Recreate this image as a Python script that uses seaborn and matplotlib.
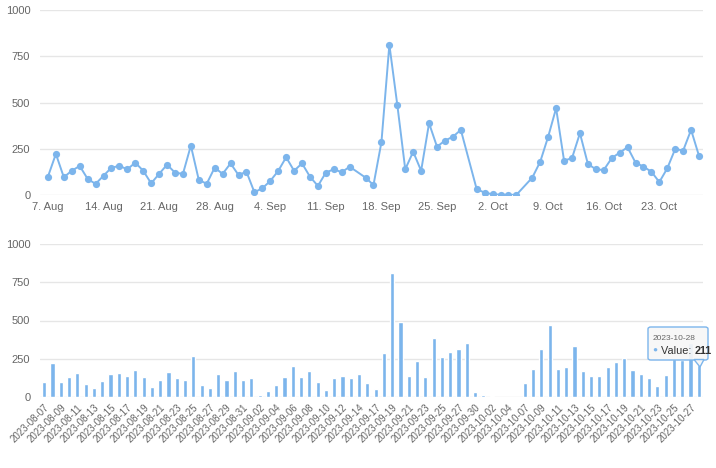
import matplotlib
matplotlib.use("Agg")
import matplotlib.pyplot as plt
import matplotlib.dates as mdates
from matplotlib.patches import FancyBboxPatch, Polygon
import seaborn as sns
import pandas as pd
import numpy as np

# ---- data ----
dates = (
    pd.date_range("2023-08-07", "2023-09-14").strftime("%Y-%m-%d").tolist()
    + ["2023-09-16", "2023-09-17"]
    + pd.date_range("2023-09-18", "2023-09-28").strftime("%Y-%m-%d").tolist()
    + ["2023-09-30"]
    + pd.date_range("2023-10-01", "2023-10-05").strftime("%Y-%m-%d").tolist()
    + pd.date_range("2023-10-07", "2023-10-28").strftime("%Y-%m-%d").tolist()
)
values = [
    # Aug 7 - Aug 31
    99, 222, 96, 131, 157, 87, 60, 104, 148, 157, 139, 175, 131, 63, 114, 164,
    121, 114, 267, 81, 61, 148, 114, 171, 108,
    # Sep 1 - Sep 14
    126, 15, 36, 76, 130, 204, 131, 171, 99, 49, 121, 139, 123, 153,
    # Sep 16, 17
    94, 54,
    # Sep 18 - Sep 28
    285, 812, 487, 139, 234, 131, 388, 261, 294, 315, 352,
    # Sep 30
    31,
    # Oct 1 - Oct 5
    13, 4, 2, 1, 1,
    # Oct 7 - Oct 28
    94, 180, 315, 469, 186, 199, 334, 168, 139, 135, 199, 229, 258, 175, 153,
    126, 70, 144, 249, 240, 352, 211,
]
tooltip_date = "2023-10-28"
tooltip_value = 211

color = "#7cb5ec"
grid_c = "#e6e6e6"
txt_c = "#666666"

sns.set_theme(style="white")
plt.rcParams["font.family"] = ["Liberation Sans", "DejaVu Sans"]

df = pd.DataFrame({"date": pd.to_datetime(dates), "label": dates, "value": values})

fig = plt.figure(figsize=(7.16, 4.68), dpi=100)
W, H = 716, 468

def axpos(x0, y0, x1, y1):
    return [x0 / W, 1 - y1 / H, (x1 - x0) / W, (y1 - y0) / H]

# ---- top line chart ----
ax1 = fig.add_axes(axpos(40, 10, 703, 195))
sns.lineplot(data=df, x="date", y="value", ax=ax1, color=color, linewidth=1.4,
             marker="o", markersize=5.2, markeredgewidth=0, markerfacecolor=color)
ax1.set_ylim(0, 1000)
ax1.set_yticks([0, 250, 500, 750, 1000])
ax1.set_xlim(df["date"].iloc[0] - pd.Timedelta(days=1.0),
             df["date"].iloc[-1] + pd.Timedelta(days=0.5))
ax1.xaxis.set_major_locator(mdates.WeekdayLocator(byweekday=mdates.MO))
ax1.xaxis.set_major_formatter(mdates.DateFormatter("%-d. %b"))
ax1.set_xlabel("")
ax1.set_ylabel("")
ax1.grid(axis="y", color=grid_c, linewidth=1)
ax1.grid(axis="x", visible=False)
for s in ax1.spines.values():
    s.set_visible(False)
ax1.tick_params(axis="both", length=0, labelsize=8, colors=txt_c)
ax1.tick_params(axis="y", pad=7)
ax1.tick_params(axis="x", pad=5)

# ---- bottom bar chart ----
ax2 = fig.add_axes(axpos(40, 244, 703, 397))
sns.barplot(data=df, x="label", y="value", ax=ax2, color=color, width=0.5,
            saturation=1)
ax2.set_ylim(0, 1000)
ax2.set_yticks([0, 250, 500, 750, 1000])
ax2.set_xlim(-0.5, len(dates) - 0.5)
ax2.set_xticks(range(0, len(dates), 2))
ax2.set_xticklabels(dates[::2], rotation=45, ha="right", rotation_mode="anchor")
ax2.set_xlabel("")
ax2.set_ylabel("")
ax2.set_axisbelow(True)
ax2.grid(axis="y", color=grid_c, linewidth=1)
ax2.grid(axis="x", visible=False)
for s in ax2.spines.values():
    s.set_visible(False)
ax2.tick_params(axis="both", length=0, labelsize=8, colors=txt_c)
ax2.tick_params(axis="x", labelsize=7)
ax2.tick_params(axis="y", pad=7)
ax2.tick_params(axis="x", pad=4)

# ---- tooltip ----
bx0, by0, bx1, by1 = 648, 327, 708, 360
box = FancyBboxPatch((bx0 / W, 1 - by1 / H), (bx1 - bx0) / W, (by1 - by0) / H,
                     boxstyle="round,pad=0,rounding_size=0.004",
                     transform=fig.transFigure, facecolor=(0.97, 0.97, 0.97, 0.92),
                     edgecolor=color, linewidth=1, zorder=10)
fig.patches.append(box)
tri = Polygon([(694 / W, 1 - 359.5 / H), (704 / W, 1 - 359.5 / H), (700 / W, 1 - 367 / H)],
              closed=True, transform=fig.transFigure, facecolor=(0.97, 0.97, 0.97, 0.92),
              edgecolor=color, linewidth=1, zorder=10)
fig.patches.append(tri)
fig.text(653 / W, 1 - 339 / H, tooltip_date, fontsize=6, color=txt_c, va="center",
         zorder=11)
fig.text(652 / W, 1 - 350.5 / H, "●", fontsize=6, color=color, va="center", zorder=11)
t1 = fig.text(661 / W, 1 - 350.5 / H, "Value: ", fontsize=7.8, color="#333333",
              va="center", zorder=11)
fig.canvas.draw()
bb = t1.get_window_extent()
fig.text(bb.x1 / W, 1 - 350.5 / H, str(tooltip_value), fontsize=7.8, color="#333333",
         fontweight="bold", va="center", zorder=11)

fig.savefig("out.png", dpi=100)
